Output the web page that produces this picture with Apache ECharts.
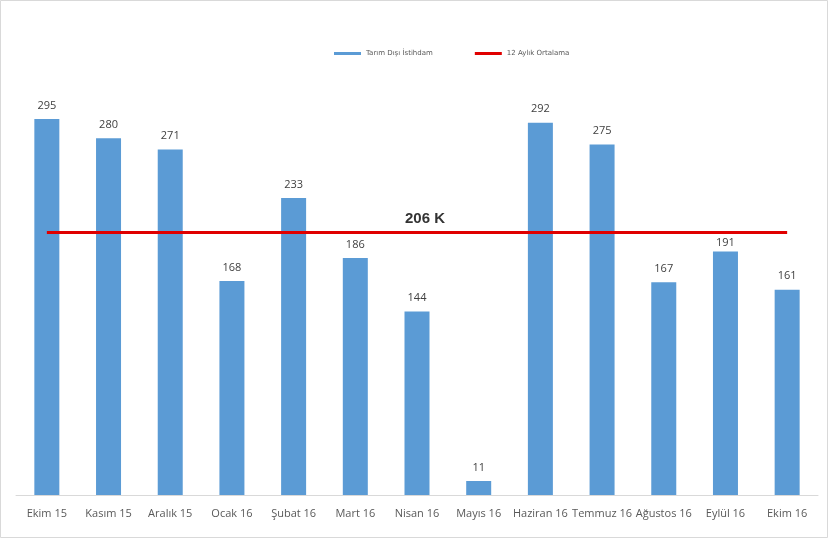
<!DOCTYPE html>
<html><head><meta charset="utf-8">
<script src="https://cdn.jsdelivr.net/npm/echarts@6/dist/echarts.min.js"></script>
<style>html,body{margin:0;padding:0;background:#fff}#c{width:833px;height:539px}</style>
</head><body><div id="c"></div>
<script>
var categories = ['Ekim 15','Kasım 15','Aralık 15','Ocak 16','Şubat 16','Mart 16','Nisan 16','Mayıs 16','Haziran 16','Temmuz 16','Ağustos 16','Eylül 16','Ekim 16'];
var employment = [295,280,271,168,233,186,144,11,292,275,167,191,161];
var average = [206,206,206,206,206,206,206,206,206,206,206,206,206];
var avgLabelIndex = 6;
var nudgedLabelIndex = 11;

var chart = echarts.init(document.getElementById('c'));
chart.setOption({
  animation: false,
  backgroundColor: '#fff',
  graphic: [{type:'rect', shape:{x:0.5,y:0.5,width:827,height:537}, style:{fill:'none', stroke:'#d9d9d9', lineWidth:1}, z:-1}],
  legend: {
    top: 45, left: 329, itemGap: 42,
    itemWidth: 27, itemHeight: 3,
    textStyle: {fontSize: 7, color: '#595959', fontFamily: 'DejaVu Sans'},
    data: [{name:'Tarım Dışı İstihdam', icon:'rect'}, {name:'12 Aylık Ortalama', icon:'rect'}]
  },
  grid: {left: 16, right: 15, top: 74.4, bottom: 44, containLabel: false},
  xAxis: {
    type: 'category', data: categories,
    axisLine: {lineStyle: {color: '#d9d9d9'}},
    axisTick: {show: false},
    axisLabel: {color: '#595959', fontSize: 11, margin: 13, fontFamily: 'Open Sans', interval: 0}
  },
  yAxis: {type: 'value', min: 0, max: 330, show: false, splitLine: {show: false}},
  series: [
    {name: 'Tarım Dışı İstihdam', type: 'bar', barWidth: 25,
     data: employment.map(function(v,i){
        return i === nudgedLabelIndex ? {value: v, label: {distance: 3}} : v; }),
     itemStyle: {color: '#5b9bd5'},
     label: {show: true, position: 'top', distance: 8, color: '#404040', fontSize: 11, fontFamily: 'Open Sans'}},
    {name: '12 Aylık Ortalama', type: 'line', z: 5,
     data: average.map(function(v,i){
        return i === avgLabelIndex ? {value: v, label: {show: true}} : v; }),
     symbol: 'circle', symbolSize: 0.1, showSymbol: true,
     lineStyle: {color: '#e00000', width: 3}, itemStyle: {color: '#e00000'},
     label: {show: false, position: 'top', distance: 6, offset: [8, 0], formatter: '{c} K', fontSize: 15, fontWeight: 'bold', color: '#333', fontFamily: 'Liberation Sans'}}
  ]
});
</script></body></html>
